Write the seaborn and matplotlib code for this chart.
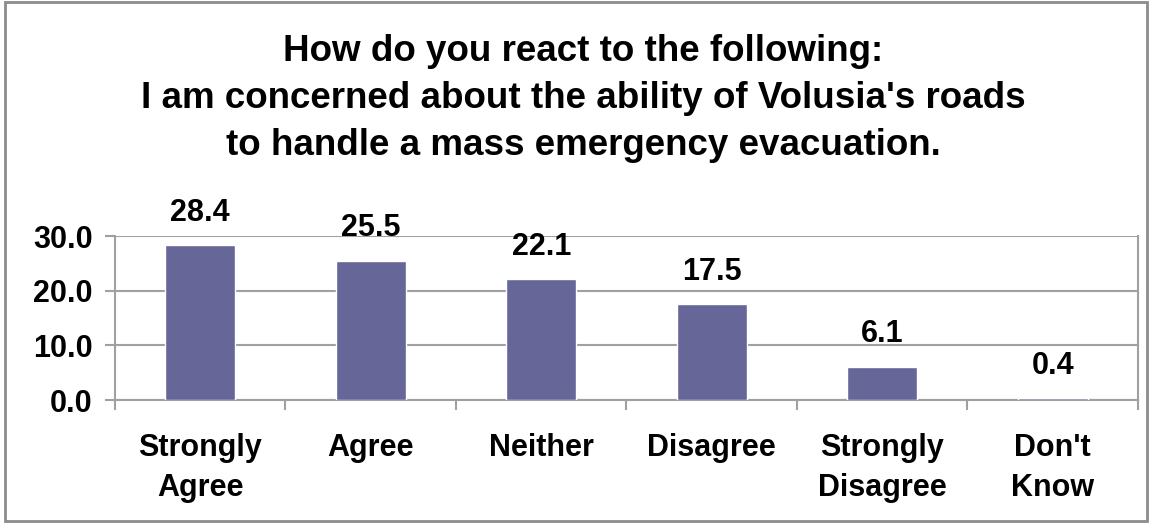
import numpy as np
import pandas as pd
import matplotlib
matplotlib.use("Agg")
import matplotlib.pyplot as plt
from matplotlib.patches import Rectangle
import seaborn as sns

categories = ["Strongly\nAgree", "Agree", "Neither", "Disagree", "Strongly\nDisagree", "Don't\nKnow"]
percent = [28.4, 25.5, 22.1, 17.5, 6.1, 0.4]
y_ticks = [0, 10, 20, 30]

title = ("How do you react to the following:\n"
         "I am concerned about the ability of Volusia's roads\n"
         "to handle a mass emergency evacuation.")

df = pd.DataFrame({"category": categories, "percent": percent})

sns.set_style("white")
plt.rcParams["font.family"] = ["Liberation Sans", "DejaVu Sans"]
plt.rcParams["font.weight"] = "bold"
plt.rcParams["text.color"] = "black"
plt.rcParams["xtick.color"] = "black"
plt.rcParams["ytick.color"] = "black"

fig = plt.figure(figsize=(11.52, 5.24), dpi=100)
ax = fig.add_axes([0.0998, 0.2366, 0.888, 0.313])

sns.barplot(data=df, x="category", y="percent", color="#666699",
            width=0.41, saturation=1, ax=ax)
for p in ax.patches:
    p.set_zorder(3)

for i, v in enumerate(percent):
    ax.text(i, v + 5.9, f"{v:.1f}", ha="center", va="center",
            fontsize=22, fontweight="bold")

ax.set_ylim(0, 30)
ax.set_xlim(-0.5, len(categories) - 0.5)
ax.set_yticks(y_ticks)
ax.set_yticklabels([f"{t:.1f}" for t in y_ticks], fontsize=22, fontweight="bold")
ax.set_xticklabels(categories, fontsize=22, fontweight="bold", linespacing=1.42)
ax.set_xlabel("")
ax.set_ylabel("")

grid_c = "#a0a0a0"
ax.grid(axis="y", color=grid_c, linewidth=1.5)
ax.set_axisbelow(True)
for side in ["left", "right", "bottom"]:
    ax.spines[side].set_color(grid_c)
    ax.spines[side].set_linewidth(1.5)
ax.spines["top"].set_visible(False)

ax.set_xticks(np.arange(-0.5, len(categories)), minor=True)
ax.tick_params(axis="x", which="major", length=0, pad=24)
ax.tick_params(axis="x", which="minor", length=7, width=1.5, color=grid_c,
               direction="out", bottom=True)
ax.tick_params(axis="y", length=7, width=1.5, color=grid_c, direction="out",
               left=True, pad=9, labelcolor="black")
ax.tick_params(axis="x", labelcolor="black")

fig.text(0.506, 0.935, title, ha="center", va="top", fontsize=26.5,
         fontweight="bold", linespacing=1.45)

fig.patches.append(Rectangle((0.004, 0.006), 0.992, 0.99, transform=fig.transFigure,
                             fill=False, edgecolor="#8c8c8c", linewidth=2))

fig.savefig("out.png", dpi=100)
